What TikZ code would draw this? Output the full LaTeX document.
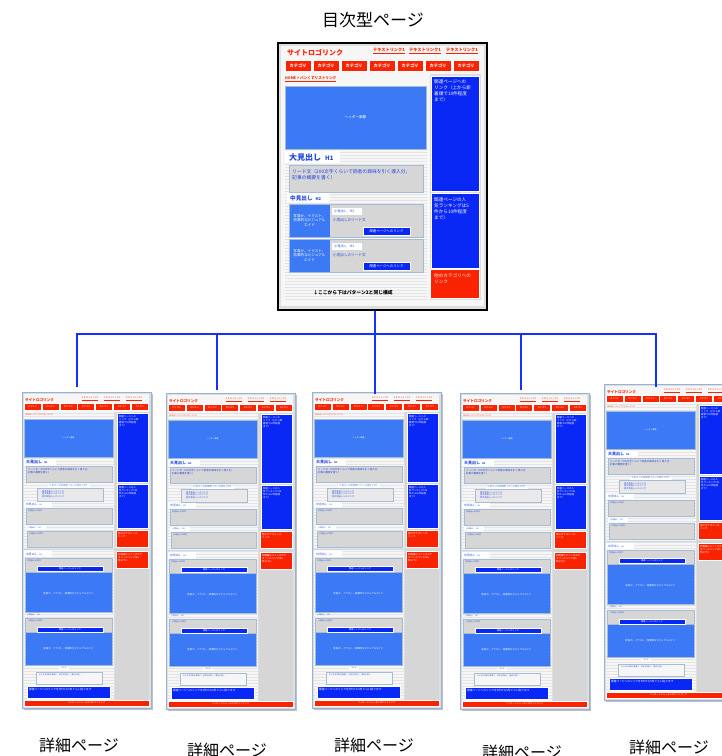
\documentclass[tikz,border=0pt]{standalone}
\usepackage{fontspec}
\setmainfont{Noto Sans CJK JP}
\usetikzlibrary{patterns}

\definecolor{webred}{RGB}{250,35,0}
\definecolor{deepblue}{RGB}{10,40,245}
\definecolor{skyblue}{RGB}{60,122,245}
\definecolor{boxgray}{RGB}{214,214,214}
\definecolor{boxedge}{RGB}{165,188,212}
\definecolor{pagegray}{RGB}{222,222,222}
\definecolor{colgray}{RGB}{214,214,214}
\definecolor{pagewhite}{RGB}{246,246,246}
\definecolor{stripe}{RGB}{228,228,228}
\definecolor{inkblue}{RGB}{35,70,225}
\definecolor{busblue}{RGB}{20,50,255}
\definecolor{frameblue}{RGB}{150,180,215}

\newcommand{\fsz}[1]{\linespread{1.3}\fontsize{#1}{#1}\selectfont}

\tikzstyle{stripes}=[preaction={fill=pagewhite}, pattern=horizontal lines, pattern color=stripe]
\tikzstyle{graybox}=[fill=boxgray, draw=boxedge, line width=0.6pt]
\tikzstyle{photo}=[fill=skyblue, draw=boxedge, line width=0.4pt]
\tikzstyle{catbtn}=[fill=webred, draw=white, line width=0.5pt]
\tikzstyle{linkbtn}=[fill=deepblue, draw=white, line width=0.5pt]
\tikzstyle{whitetxt}=[text=white, inner sep=0pt]
\tikzstyle{bluetxt}=[text=inkblue, inner sep=0pt]
\tikzstyle{redtxt}=[text=webred, inner sep=0pt]
\tikzstyle{busline}=[draw=busblue, line width=1.6pt]
\tikzstyle{pagelabel}=[font=\fsz{16}, inner sep=0pt]

% one small detail page, #1 = name, #2,#3 = top left corner
\newcommand{\detailpage}[3]{%
\begin{scope}[shift={(#2,#3)}]
  \fill[black!25] (2,2) rectangle (131,318);
  \filldraw[fill=pagegray, draw=frameblue, line width=0.8pt] (0,0) rectangle (129,316);
  \fill[pagewhite] (2,2) rectangle (127,20);
  \path[stripes] (2,20) rectangle (92,314);
  \node[redtxt, anchor=west, font=\fsz{3.6}\bfseries] (#1-logo) at (3,8) {サイトロゴリンク};
  \foreach \k/\lx in {1/68,2/90,3/112}
    \node[redtxt, font=\fsz{2.2}] (#1-link\k) at (\lx,7) {\underline{テキストリンク1}};
  \foreach \k in {0,...,6} {
    \filldraw[catbtn] ({2+\k*17.9},11) rectangle +(17,7);
    \node[whitetxt, font=\fsz{2.2}] (#1-cat\k) at ({10.5+\k*17.9},14.5) {カテゴリ};
  }
  \node[redtxt, anchor=west, font=\fsz{2}] (#1-crumb) at (3,23) {HOME > パンくずリストリンク};
  \filldraw[photo] (2,27) rectangle (91,65);
  \node[whitetxt, font=\fsz{2}] (#1-head) at (46.5,46) {ヘッダー画像};
  % right column
  \fill[colgray] (93,20) rectangle (127,312);
  \filldraw[fill=deepblue, draw=white, line width=0.4pt] (95,21) rectangle (126,90);
  \node[whitetxt, anchor=north west, align=left, font=\fsz{2.4}] (#1-rel) at (97,23)
    {関連ページへの\\リンク（上から新\\着順で10件程度\\まで）};
  \filldraw[fill=deepblue, draw=white, line width=0.4pt] (95,92) rectangle (126,136);
  \node[whitetxt, anchor=north west, align=left, font=\fsz{2.4}] (#1-rank) at (97,94)
    {関連ページの人\\気ランキングは5\\件から10件程度\\まで）};
  \filldraw[fill=webred, draw=white, line width=0.4pt] (94,138) rectangle (126,155);
  \node[whitetxt, anchor=north west, align=left, font=\fsz{2.4}] (#1-other) at (96,140)
    {他のカテゴリへの\\リンク};
  \filldraw[fill=webred, draw=white, line width=0.4pt] (94,159) rectangle (126,176);
  \node[whitetxt, anchor=north west, align=left, font=\fsz{2.4}] (#1-same) at (96,161)
    {同階層のメインのカテ\\ゴリーのリンクは5\\件以下に};
  % left column, part 1
  \fill[white] (2,67) rectangle (34,73);
  \node[text=inkblue, anchor=west, inner sep=0pt, font=\fsz{4}\bfseries] (#1-h1) at (4,70)
    {大見出し\hspace{2pt}{\fsz{2.5}H1}};
  \filldraw[graybox] (4,74) rectangle (90,90);
  \node[bluetxt, anchor=north west, align=left, font=\fsz{2.5}] (#1-lead) at (6,76)
    {リード文（200文字くらいで読者の興味を引く導入分、\\記事の概要を書く）};
  \fill[white] (26,92.5) rectangle (68,95.5);
  \node[bluetxt, font=\fsz{2.3}] (#1-toclabel) at (47,94) {このページの目次（ページ内リンク）};
  \filldraw[fill=pagewhite!60!boxgray, draw=boxedge, line width=0.4pt] (15,96) rectangle (81,109);
  \node[bluetxt, anchor=north west, align=left, font=\fsz{2.2}] (#1-toc) at (20,98)
    {目次見出しへのリンク\\目次見出しへのリンク\\目次見出しへのリンク};
  \fill[white] (2,109.5) rectangle (30,115);
  \node[bluetxt, anchor=west, font=\fsz{2.8}] (#1-h2a) at (4,112) {中見出し\hspace{2pt}{\fsz{2}H2}};
  \filldraw[graybox] (4,116) rectangle (90,132);
  \node[bluetxt, anchor=north west, font=\fsz{2}] (#1-body1) at (6,118) {中見出しの本文};
  \fill[white] (4,134) rectangle (24,138);
  \node[bluetxt, anchor=west, font=\fsz{2}] (#1-h3a) at (6,136) {小見出し\hspace{2pt}H3};
  \filldraw[graybox] (5,139) rectangle (90,155);
  \node[bluetxt, anchor=north west, font=\fsz{2}] (#1-body2) at (7,141) {小見出しの本文};
  \draw[boxedge!60, line width=0.6pt] (2,157) -- (92,157);
  % left column, part 2
  \fill[white] (2,159) rectangle (30,165);
  \node[bluetxt, anchor=west, font=\fsz{2.8}] (#1-h2b) at (4,162) {中見出し\hspace{2pt}{\fsz{2}H2}};
  \fill[boxgray] (3,166) rectangle (90,180);
  \node[bluetxt, anchor=north west, font=\fsz{2}] (#1-body3) at (5,168) {中見出しの本文};
  \filldraw[photo] (3,180) rectangle (90,220);
  \filldraw[linkbtn] (15,174) rectangle (81,179.5);
  \node[whitetxt, font=\fsz{2.2}] (#1-btn1) at (48,176.8) {関連ページへのリンク};
  \node[whitetxt, font=\fsz{2.4}] (#1-vis1) at (46.5,202) {写真か、イラスト、効果的なビジュアルエイド};
  \draw[boxedge, line width=0.6pt] (3,166) rectangle (90,220);
  \node[bluetxt, anchor=west, font=\fsz{2}] (#1-h3b) at (5,223) {小見出し\hspace{2pt}H3};
  \fill[boxgray] (4,226) rectangle (90,240);
  \node[bluetxt, anchor=north west, font=\fsz{2}] (#1-body4) at (6,228) {小見出しの本文};
  \filldraw[photo] (3,240) rectangle (90,273);
  \filldraw[linkbtn] (15,235) rectangle (81,240.5);
  \node[whitetxt, font=\fsz{2.2}] (#1-btn2) at (48,237.8) {関連ページへのリンク};
  \node[whitetxt, font=\fsz{2.4}] (#1-vis2) at (46.5,257) {写真か、イラスト、効果的なビジュアルエイド};
  \draw[boxedge, line width=0.6pt] (3,226) rectangle (90,273);
  \fill[white] (37,274.5) rectangle (47,278);
  \node[bluetxt, font=\fsz{1.8}] (#1-sumlabel) at (42,276.3) {まとめ};
  \filldraw[fill=pagewhite, draw=boxedge, line width=0.5pt] (14,280) rectangle (80,292);
  \node[bluetxt, anchor=north west, font=\fsz{1.8}] (#1-sum) at (17,282) {まとめの文章を簡潔に。目次を見返し、要点を書く。};
  \filldraw[linkbtn] (5,294) rectangle (88,306);
  \node[whitetxt, anchor=north west, font=\fsz{2.7}] (#1-more) at (7,296.5) {関連ページへのリンクを3件から5件ぐらい貼ります};
  \filldraw[fill=webred, draw=white, line width=0.4pt] (2,308) rectangle (127,314);
  \node[whitetxt, font=\fsz{2.2}] (#1-foot) at (64.5,311) {フッターメニューまたはサイトマップ};
\end{scope}}

\begin{document}
\begin{tikzpicture}[x=1pt, y=-1pt]
\useasboundingbox (0,0) rectangle (722,756);

\node[pagelabel, font=\fsz{17}] (title) at (373,20) {目次型ページ};

% top page
\filldraw[fill=pagegray, draw=black, line width=2pt] (278,43) rectangle (487,310);
\fill[pagewhite] (281,46) rectangle (484,306);
\node[redtxt, anchor=west, font=\fsz{7}\bfseries] (toplogo) at (287,53) {サイトロゴリンク};
\foreach \k/\lx in {1/389,2/425,3/462}
  \node[redtxt, font=\fsz{4.2}\bfseries] (toplink\k) at (\lx,51) {\underline{テキストリンク1}};
\foreach \k in {0,...,6} {
  \filldraw[catbtn] ({285+\k*28},60) rectangle +(26,11);
  \node[whitetxt, font=\fsz{4.2}\bfseries] (topcat\k) at ({298+\k*28},65.5) {カテゴリ};
}
\node[redtxt, anchor=west, font=\fsz{3.6}\bfseries] (topcrumb) at (285,79) {\underline{HOME > パンくずリストリンク}};
\path[stripes] (285,84) rectangle (427,300);
\fill[pagegray] (430,74) rectangle (481,300);
\filldraw[photo] (285,86) rectangle (426,149);
\node[whitetxt, font=\fsz{3.6}] (tophead) at (355.5,117.5) {ヘッダー画像};
\fill[white] (285,151) rectangle (340,163);
\node[text=inkblue, anchor=west, inner sep=0pt, font=\fsz{8}\bfseries] (toph1) at (289,157)
  {大見出し\hspace{4pt}{\fsz{6}H1}};
\filldraw[graybox] (289,165) rectangle (423,192);
\node[bluetxt, anchor=north west, align=left, font=\fsz{4.8}] (toplead) at (292,169)
  {リード文（200文字くらいで読者の興味を引く導入分、\\記事の概要を書く）};
\fill[white] (287,193) rectangle (330,203);
\node[bluetxt, anchor=west, font=\fsz{5.6}\bfseries] (toph2) at (290,198) {中見出し\hspace{3pt}{\fsz{4}H2}};
\foreach \k/\cy in {1/204,2/239} {
  \fill[boxgray] (289,\cy) rectangle +(134,33);
  \fill[skyblue] (289,\cy) rectangle +(41,33);
  \draw[boxedge, line width=0.6pt] (289,\cy) rectangle +(134,33);
  \node[whitetxt, align=center, font=\fsz{3.6}] (topvis\k) at (309.5,\cy+16.5)
    {写真か、イラスト、\\効果的なビジュアル\\エイド};
  \fill[white] (332,\cy+4) rectangle +(30,7);
  \node[bluetxt, anchor=west, font=\fsz{3.2}] (toph3\k) at (334,\cy+7.5) {小見出し\hspace{3pt}H3};
  \node[bluetxt, anchor=west, font=\fsz{3.6}] (topsub\k) at (333,\cy+16.5) {小見出しのリード文};
  \filldraw[linkbtn] (363,\cy+23) rectangle +(47,8);
  \node[whitetxt, font=\fsz{3.4}] (topbtn\k) at (386.5,\cy+27) {関連ページへのリンク};
}
\node[inner sep=0pt, font=\fsz{4.8}\bfseries] (topnote) at (353,293) {↓ここから下はパターン2と同じ構成};
\filldraw[fill=deepblue, draw=white, line width=0.6pt] (431,76) rectangle (479,191);
\node[whitetxt, anchor=north west, align=left, font=\fsz{4.6}] (toprel) at (434,79)
  {関連ページへの\\リンク（上から新\\着順で10件程度\\まで）};
\filldraw[fill=deepblue, draw=white, line width=0.6pt] (431,193) rectangle (479,268);
\node[whitetxt, anchor=north west, align=left, font=\fsz{4.6}] (toprank) at (434,197)
  {関連ページの人\\気ランキングは5\\件から10件程度\\まで）};
\filldraw[fill=webred, draw=white, line width=0.6pt] (430,269) rectangle (479,298);
\node[whitetxt, anchor=north west, align=left, font=\fsz{4.6}] (topother) at (434,273)
  {他のカテゴリへの\\リンク};

% detail pages
\detailpage{p1}{22}{392}
\detailpage{p2}{166}{393}
\detailpage{p3}{312}{392}
\detailpage{p4}{460}{393}
\detailpage{p5}{604}{384}

% connectors
\coordinate (tocfoot) at (375,311);
\coordinate (bus) at (375,334);
\coordinate (d1) at (77,387);
\coordinate (d2) at (217,390);
\coordinate (d3) at (375,394);
\coordinate (d4) at (521,390);
\coordinate (d5) at (656,387);
\draw[busline] (d1) |- (bus) -| (d5);
\draw[busline] (tocfoot) -- (d3);
\draw[busline] (d2) -- (d2 |- bus);
\draw[busline] (d4) -- (d4 |- bus);

\node[pagelabel] (label1) at (79,745) {詳細ページ};
\node[pagelabel] (label2) at (227,750) {詳細ページ};
\node[pagelabel] (label3) at (374,745) {詳細ページ};
\node[pagelabel] (label4) at (522,752) {詳細ページ};
\node[pagelabel] (label5) at (669,747) {詳細ページ};
\end{tikzpicture}
\end{document}
